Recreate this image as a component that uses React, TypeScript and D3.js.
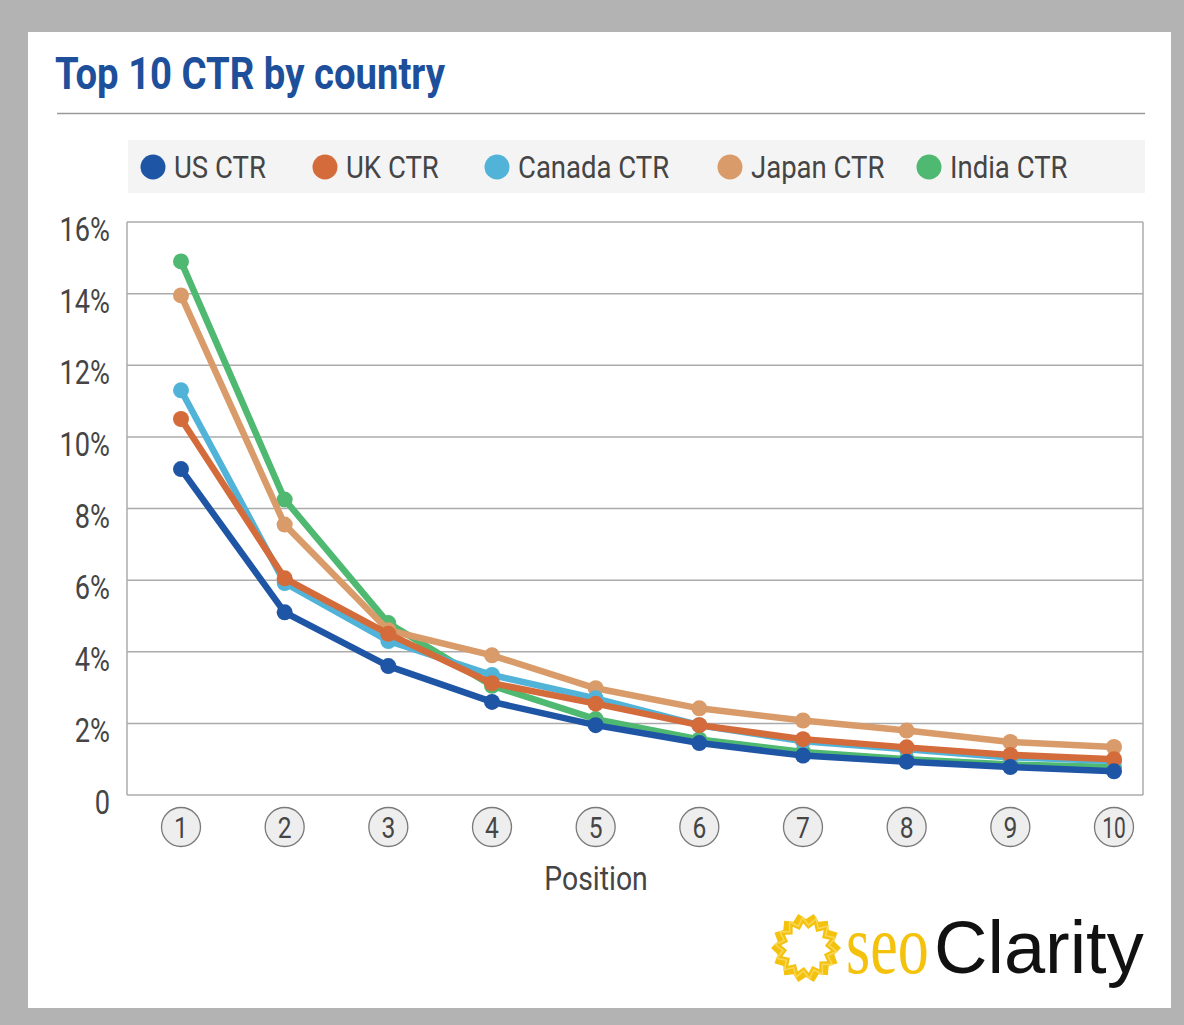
import React from "react";
import * as d3 from "d3";

const positions = [1, 2, 3, 4, 5, 6, 7, 8, 9, 10];
const seriesNames = ["US CTR", "UK CTR", "Canada CTR", "Japan CTR", "India CTR"];
const usCTR = [9.1, 5.1, 3.6, 2.6, 1.95, 1.45, 1.1, 0.93, 0.78, 0.66];
const ukCTR = [10.5, 6.05, 4.5, 3.12, 2.55, 1.95, 1.56, 1.33, 1.12, 1.0];
const canadaCTR = [11.3, 5.92, 4.3, 3.35, 2.7, 1.95, 1.5, 1.28, 1.05, 0.95];
const japanCTR = [13.95, 7.55, 4.6, 3.9, 2.98, 2.42, 2.08, 1.8, 1.48, 1.34];
const indiaCTR = [14.9, 8.25, 4.8, 3.05, 2.12, 1.55, 1.2, 1.0, 0.85, 0.78];
const yTicks = [0, 2, 4, 6, 8, 10, 12, 14, 16];
const colors = ["#1f55a5", "#d46b3b", "#52b3d9", "#d99b69", "#4fb871"];

const W = 1184;
const H = 1025;

export default function App() {
  const x = d3.scaleLinear().domain([1, 10]).range([181, 1114]);
  const y = d3.scaleLinear().domain([0, 16]).range([795, 222]);
  const plotL = 127;
  const plotR = 1143;

  const allSeries = [usCTR, ukCTR, canadaCTR, japanCTR, indiaCTR];
  const drawOrder = [4, 3, 2, 1, 0];
  const line = d3
    .line<number>()
    .x((_, i) => x(positions[i]))
    .y((d) => y(d));

  const legendX = [153, 325, 497, 730, 929];

  // sun logo zigzag ring
  const sunCx = 806;
  const sunCy = 948;
  const n = 14;
  const zig = (rA: number, rB: number, phase: number) => {
    const pts: [number, number][] = [];
    for (let i = 0; i < n * 2; i++) {
      const a = (i / (n * 2)) * Math.PI * 2 + phase;
      const r = i % 2 === 0 ? rA : rB;
      pts.push([sunCx + r * Math.cos(a), sunCy + r * Math.sin(a)]);
    }
    return "M" + pts.map((p) => p.join(",")).join("L") + "Z";
  };

  return (
    <div style={{ position: "absolute", left: 0, top: 0 }}>
      <svg width={W} height={H} style={{ display: "block" }}>
        <rect x={0} y={0} width={W} height={H} fill="#b3b3b3" />
        <rect x={28} y={32} width={1143} height={976} fill="#ffffff" />

        <text
          x={55}
          y={89}
          fontFamily="Roboto"
          fontWeight={700}
          fontSize={44}
          fill="#1d4f9b"
          textLength={390}
          lengthAdjust="spacingAndGlyphs"
        >
          Top 10 CTR by country
        </text>
        <line x1={57} x2={1145} y1={113.5} y2={113.5} stroke="#9a9a9a" strokeWidth={1.5} />

        {/* legend */}
        <rect x={128} y={140} width={1017} height={53} fill="#f4f4f4" />
        {seriesNames.map((name, i) => (
          <g key={name}>
            <circle cx={legendX[i]} cy={167} r={12.5} fill={colors[i]} />
            <text
              transform={`translate(${legendX[i] + 21},178) scale(0.86,1)`}
              fontFamily="Roboto"
              fontSize={32}
              fill="#454545"
            >
              {name}
            </text>
          </g>
        ))}

        {/* grid */}
        {yTicks.map((t) => (
          <line
            key={t}
            x1={plotL}
            x2={plotR}
            y1={y(t)}
            y2={y(t)}
            stroke="#ababab"
            strokeWidth={1.5}
          />
        ))}
        <line x1={plotL} x2={plotL} y1={y(16)} y2={y(0)} stroke="#ababab" strokeWidth={1.5} />
        <line x1={plotR} x2={plotR} y1={y(16)} y2={y(0)} stroke="#ababab" strokeWidth={1.5} />

        {yTicks.map((t) => (
          <text
            key={"l" + t}
            transform={`translate(110,${y(t) + 19}) scale(0.8,1)`}
            textAnchor="end"
            fontFamily="Roboto"
            fontSize={34}
            fill="#454545"
          >
            {t === 0 ? "0" : `${t}%`}
          </text>
        ))}

        {/* x labels */}
        {positions.map((p) => (
          <g key={"x" + p}>
            <circle cx={x(p)} cy={827} r={19.5} fill="#eeeeee" stroke="#7a7a7a" strokeWidth={1.3} />
            <text
              transform={`translate(${x(p)},838) scale(${p === 10 ? 0.7 : 0.82},1)`}
              textAnchor="middle"
              fontFamily="Roboto"
              fontSize={30}
              fill="#454545"
            >
              {p}
            </text>
          </g>
        ))}
        <text
          transform="translate(596,890) scale(0.86,1)"
          textAnchor="middle"
          fontFamily="Roboto"
          fontSize={33}
          fill="#454545"
        >
          Position
        </text>

        {/* series */}
        {drawOrder.map((si) => (
          <g key={"s" + si}>
            <path
              d={line(allSeries[si]) || ""}
              fill="none"
              stroke={colors[si]}
              strokeWidth={6.5}
              strokeLinejoin="round"
            />
            {allSeries[si].map((v, i) => (
              <circle key={i} cx={x(positions[i])} cy={y(v)} r={8} fill={colors[si]} />
            ))}
          </g>
        ))}

        {/* logo */}
        <path
          d={zig(35, 29, 0) + zig(25, 19, Math.PI / (n * 2))}
          fill="#f4c20d"
          fillRule="evenodd"
        />
        <path d={zig(31, 23, Math.PI / n / 2)} fill="none" stroke="#f8d75a" strokeWidth={1.5} />
        <text
          transform="translate(846,973) scale(1,1.36)"
          fontFamily="Liberation Serif"
          fontSize={62}
          fill="#f4c20d"
        >
          seo
        </text>
        <text
          x={934}
          y={973}
          fontFamily="Liberation Sans"
          fontSize={74}
          fill="#111111"
        >
          Clarity
        </text>
      </svg>
    </div>
  );
}
